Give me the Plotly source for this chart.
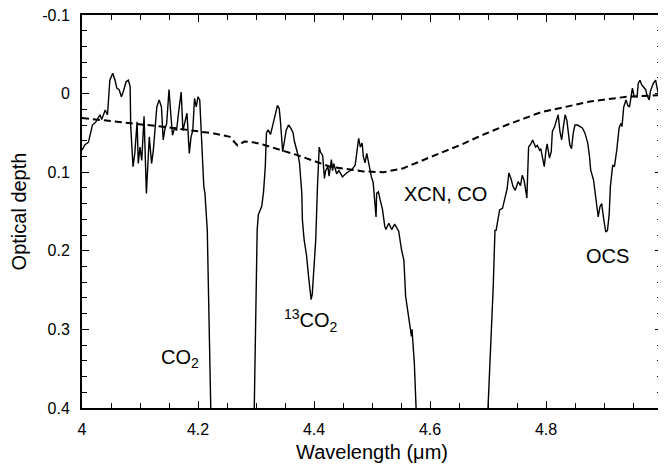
import plotly.graph_objects as go

# Observed optical depth spectrum (solid line); values beyond 0.4 are off-scale (saturated)
wavelength = [4.000, 4.005, 4.011, 4.015, 4.018, 4.024, 4.031, 4.034, 4.040, 4.044,
              4.048, 4.053, 4.057, 4.060, 4.064, 4.068, 4.071, 4.076, 4.080, 4.083,
              4.084, 4.088, 4.091, 4.095, 4.097, 4.100, 4.103, 4.107, 4.111, 4.116,
              4.120, 4.123, 4.129, 4.133, 4.137, 4.140, 4.143, 4.146, 4.150, 4.153,
              4.156, 4.160, 4.163, 4.167, 4.171, 4.174, 4.178, 4.181, 4.185, 4.188,
              4.191, 4.194, 4.197, 4.200, 4.203, 4.206, 4.210, 4.212, 4.216, 4.222,
              4.223,
              4.295, 4.297, 4.302, 4.304, 4.310, 4.313, 4.316, 4.318, 4.321, 4.325,
              4.328, 4.333, 4.337, 4.340, 4.342, 4.346, 4.349, 4.352, 4.356, 4.360,
              4.364, 4.366, 4.373, 4.375, 4.379, 4.380, 4.383, 4.387, 4.391, 4.395,
              4.397, 4.400, 4.403, 4.406, 4.408, 4.409, 4.411, 4.415, 4.418, 4.420,
              4.424, 4.426, 4.430, 4.432, 4.434, 4.439, 4.443, 4.449, 4.456, 4.465,
              4.471, 4.474, 4.477, 4.480, 4.483, 4.485, 4.488, 4.491, 4.494, 4.497,
              4.499, 4.502, 4.505, 4.507, 4.508, 4.511, 4.514, 4.518, 4.522, 4.524,
              4.529, 4.534, 4.539, 4.546, 4.551, 4.555, 4.558, 4.561, 4.564, 4.568,
              4.569, 4.573, 4.576, 4.577,
              4.699, 4.700, 4.709, 4.712, 4.714, 4.720, 4.725, 4.728, 4.733, 4.736,
              4.740, 4.743, 4.747, 4.752, 4.756, 4.759, 4.762, 4.764, 4.767, 4.770,
              4.774, 4.777, 4.782, 4.785, 4.789, 4.791, 4.794, 4.797, 4.800, 4.802,
              4.806, 4.809, 4.811, 4.815, 4.818, 4.821, 4.824, 4.827, 4.830, 4.833,
              4.836, 4.839, 4.841, 4.844, 4.847, 4.850, 4.854, 4.859, 4.863, 4.867,
              4.872, 4.875, 4.877, 4.882, 4.885, 4.887, 4.890, 4.893, 4.896, 4.899,
              4.903, 4.906, 4.909, 4.911, 4.915, 4.918, 4.922, 4.926, 4.929, 4.931,
              4.934, 4.938, 4.941, 4.944, 4.947, 4.949, 4.952, 4.957, 4.959, 4.962,
              4.965, 4.969, 4.972, 4.974, 4.978, 4.980, 4.985, 4.989, 4.991, 4.994,
              4.998]
optical_depth = [0.072, 0.065, 0.062, 0.048, 0.040, 0.036, 0.027, 0.033, 0.021, 0.027,
                 -0.017, -0.026, -0.017, -0.007, -0.005, 0.004, -0.002, -0.015, -0.017, -0.009,
                 0.042, 0.093, 0.076, 0.036, 0.089, 0.068, 0.085, 0.029, 0.127, 0.055,
                 0.089, 0.072, 0.017, 0.008, 0.017, 0.059, 0.045, 0.038, -0.005, 0.025,
                 0.053, 0.043, 0.047, 0.021, -0.002, 0.047, 0.034, 0.025, 0.076, 0.055,
                 0.047, 0.006, 0.017, 0.004, 0.008, 0.059, 0.118, 0.127, 0.174, 0.400,
                 0.45,
                 0.45, 0.400, 0.174, 0.154, 0.143, 0.125, 0.093, 0.050, 0.046, 0.052,
                 0.043, 0.025, 0.015, 0.019, 0.034, 0.074, 0.060, 0.047, 0.040, 0.044,
                 0.050, 0.060, 0.080, 0.088, 0.127, 0.161, 0.186, 0.205, 0.235, 0.262,
                 0.255, 0.225, 0.186, 0.118, 0.072, 0.068, 0.074, 0.079, 0.108, 0.098,
                 0.093, 0.105, 0.084, 0.098, 0.089, 0.102, 0.098, 0.106, 0.101, 0.097,
                 0.091, 0.076, 0.057, 0.068, 0.063, 0.080, 0.088, 0.076, 0.088, 0.097,
                 0.106, 0.113, 0.135, 0.157, 0.127, 0.125, 0.135, 0.147, 0.169, 0.173,
                 0.165, 0.173, 0.166, 0.175, 0.199, 0.212, 0.258, 0.273, 0.284, 0.309,
                 0.300, 0.343, 0.400, 0.45,
                 0.45, 0.400, 0.246, 0.174, 0.174, 0.148, 0.146, 0.135, 0.121, 0.101,
                 0.109, 0.118, 0.123, 0.112, 0.117, 0.104, 0.110, 0.118, 0.133, 0.068,
                 0.064, 0.059, 0.068, 0.066, 0.072, 0.070, 0.080, 0.093, 0.072, 0.064,
                 0.082, 0.074, 0.048, 0.042, 0.034, 0.027, 0.048, 0.059, 0.042, 0.027,
                 0.034, 0.050, 0.065, 0.070, 0.050, 0.040, 0.040, 0.042, 0.044, 0.050,
                 0.063, 0.080, 0.097, 0.110, 0.127, 0.144, 0.157, 0.144, 0.140, 0.157,
                 0.176, 0.174, 0.153, 0.118, 0.091, 0.093, 0.072, 0.044, 0.038, 0.042,
                 0.017, 0.008, 0.015, 0.017, 0.002, -0.007, 0.004, 0.004, -0.013, -0.017,
                 -0.011, -0.007, -0.005, 0.002, 0.008, -0.003, -0.013, -0.017, -0.009, 0.002,
                 -0.002]

# Gaps where the absorption is saturated (off-scale)
gap_after = [4.223, 4.577]
wl_plot, od_plot = [], []
for w, d in zip(wavelength, optical_depth):
    wl_plot.append(w)
    od_plot.append(d)
    if w in gap_after:
        wl_plot.append(None)
        od_plot.append(None)

# Continuum / model (dashed line)
model_wavelength = [4.000, 4.050, 4.100, 4.150, 4.200, 4.230, 4.255, 4.268, 4.280, 4.295,
                    4.313, 4.370, 4.428, 4.485, 4.520, 4.554, 4.600, 4.657, 4.686, 4.732,
                    4.790, 4.836, 4.876, 4.939, 5.000]
model_depth = [0.031, 0.035, 0.039, 0.043, 0.048, 0.051, 0.055, 0.066, 0.061, 0.062,
               0.065, 0.078, 0.093, 0.099, 0.100, 0.095, 0.081, 0.064, 0.054, 0.040,
               0.024, 0.016, 0.010, 0.004, 0.002]

x_tickvals = [4, 4.2, 4.4, 4.6, 4.8, 5]
x_ticktext = ["4", "4.2", "4.4", "4.6", "4.8", "5"]
y_tickvals = [-0.1, 0, 0.1, 0.2, 0.3, 0.4]
y_ticktext = ["-0.1", "0", "0.1", "0.2", "0.3", "0.4"]

labels = ["XCN, CO", "<sup>13</sup>CO<sub>2</sub>", "CO<sub>2</sub>", "OCS"]
label_x = [4.626, 4.395, 4.169, 4.906]
label_y = [0.128, 0.289, 0.337, 0.206]

FONT = "Liberation Sans, Arial, sans-serif"

fig = go.Figure()
fig.add_trace(go.Scatter(x=model_wavelength, y=model_depth, mode="lines",
                         line=dict(color="black", width=2, dash="7px,4px"),
                         hoverinfo="skip", showlegend=False))
fig.add_trace(go.Scatter(x=wl_plot, y=od_plot, mode="lines",
                         line=dict(color="black", width=1.4),
                         connectgaps=False, showlegend=False))

for t, xx, yy in zip(labels, label_x, label_y):
    fig.add_annotation(x=xx, y=yy, text=t, showarrow=False,
                       font=dict(family=FONT, size=20, color="black"))

axis_common = dict(showline=True, linewidth=2, linecolor="black", mirror="ticks",
                   ticks="inside", ticklen=7, tickwidth=1, tickcolor="black",
                   showgrid=False, zeroline=False, automargin=False,
                   ticklabeloverflow="allow",
                   tickfont=dict(family=FONT, size=16, color="black"))

fig.update_xaxes(range=[4, 5], tickvals=x_tickvals, ticktext=x_ticktext,
                 ticklabelstandoff=6,
                 minor=dict(dtick=0.05, tick0=4, ticks="inside", ticklen=5,
                            tickcolor="black", tickwidth=1, showgrid=False),
                 title=dict(text="Wavelength (μm)", font=dict(family=FONT, size=20, color="black"),
                            standoff=8),
                 **axis_common)
fig.update_yaxes(range=[0.4, -0.1], tickvals=y_tickvals, ticktext=y_ticktext,
                 ticklabelstandoff=7,
                 minor=dict(dtick=0.02, tick0=0, ticks="inside", ticklen=5,
                            tickcolor="black", tickwidth=1, showgrid=False),
                 title=dict(text="Optical depth", font=dict(family=FONT, size=20, color="black"),
                            standoff=16),
                 **axis_common)

# The page body adds an 8px offset, so the figure is 8px smaller and margins are reduced accordingly
fig.update_layout(width=658, height=456,
                  margin=dict(l=74, r=4, t=7, b=56, autoexpand=False),
                  plot_bgcolor="white", paper_bgcolor="white",
                  showlegend=False)

fig.write_html("out.html")
